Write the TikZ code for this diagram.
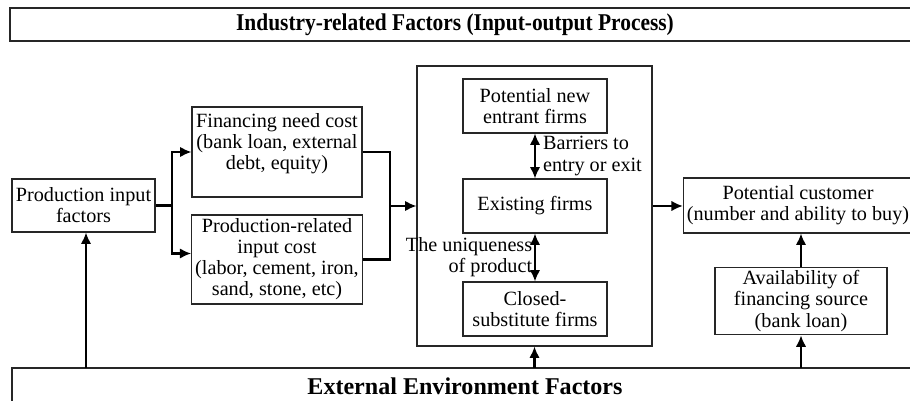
\documentclass[tikz,border=0pt]{standalone}
\usepackage{fontspec}
\setmainfont{Liberation Serif}
\usetikzlibrary{calc, arrows.meta}

\newcommand{\bodyfont}{\fontsize{11.5}{12}\selectfont}
\newcommand{\headfont}{\fontsize{13.7}{15}\selectfont\bfseries}

\tikzset{
	box/.style={draw=black!85, line width=0.6pt, align=center, inner sep=2pt, font=\bodyfont},
	wh/.style 2 args={minimum width=#1*0.02cm, minimum height=#2*0.02cm},
	frame/.style={draw=black!85, line width=0.6pt},
	head/.style={font=\headfont},
	flow/.style={->, line width=1.2pt},
	tag/.style={font=\bodyfont, inner sep=1pt},
}

\begin{document}
\begin{tikzpicture}[x=0.02cm, y=-0.02cm, >={Latex[length=6.5pt,width=6pt]}]
	
	% page size of the reference (pixels)
	\useasboundingbox (0,0) rectangle (910,401);
	\clip (0,0) rectangle (910,401);
	
	% 1. Outer frames (top and bottom bands)
	\draw[frame] (10,8) rectangle (915,41);
	\node[head, xscale=0.89, transform shape] (industry) at (455,24.5) {Industry-related Factors (Input-output Process)};
	\draw[frame] (12,368) rectangle (915,420);
	\node[head] (external) at (465,386) {External Environment Factors};
	\coordinate (base) at (0,368);
	
	% 2. Input side
	\node[box, wh={143}{53}] (prodin) at (83.5,205.5) {Production input\\factors};
	\node[box, wh={170}{90}] (fincost) at (277,152) {Financing need cost\\(bank loan, external\\debt, equity)\\\mbox{}};
	\node[box, wh={170}{89}] (prodcost) at (277,259.5) {Production-related\\input cost\\(labor, cement, iron,\\sand, stone, etc)};
	
	% 3. Market (firms)
	\node[box, wh={235}{280}] (market) at (534.5,206) {};
	\node[box, wh={144}{54}] (newfirm) at (535,106) {Potential new\\entrant firms};
	\node[box, wh={144}{54}] (exfirm) at (535,206) {Existing firms};
	\node[box, wh={144}{54}] (subfirm) at (535,309) {Closed-\\substitute firms};
	
	% 4. Demand side
	\node[box, wh={228}{55}] (customer) at (798,205.5) {Potential customer\\(number and ability to buy)};
	\node[box, wh={172}{64}] (financing) at (801,301) {Availability of\\financing source\\(bank loan)};
	
	% 5. Fork and merge
	\coordinate (fork) at (172,205.5);
	\coordinate (merge) at (390,206);
	\draw[line width=1.2pt] (prodin.east) -- (fork);
	\draw[flow] (fork) |- (fincost.west);
	\draw[flow] (fork) |- ($(prodcost.west)+(0,-6)$);
	\draw[line width=1.2pt] (fincost.east) -| (merge) |- (prodcost.east);
	\draw[flow] (merge) -- (market.west);
	
	% 6. Links between firms
	\draw[<->, line width=1.2pt] (newfirm.south) -- (exfirm.north)
	node[tag, midway, right, xshift=3pt, align=left] {Barriers to\\entry or exit};
	\draw[<->, line width=1.2pt] (exfirm.south) -- (subfirm.north)
	node[tag, midway, left, align=right] {The uniqueness\\of product};
	
	% 7. Market to customer, financing to customer
	\draw[flow] (market.east) -- (market.east -| customer.west);
	\draw[flow] (financing.north) -- (financing.north |- customer.south);
	
	% 8. External factors pushing up
	\draw[flow] ($(prodin.south |- base)+(2.5,0)$) -- ($(prodin.south)+(2.5,0)$);
	\draw[flow] (market.south |- base) -- (market.south);
	\draw[flow] (financing.south |- base) -- (financing.south);
	
\end{tikzpicture}
\end{document}
